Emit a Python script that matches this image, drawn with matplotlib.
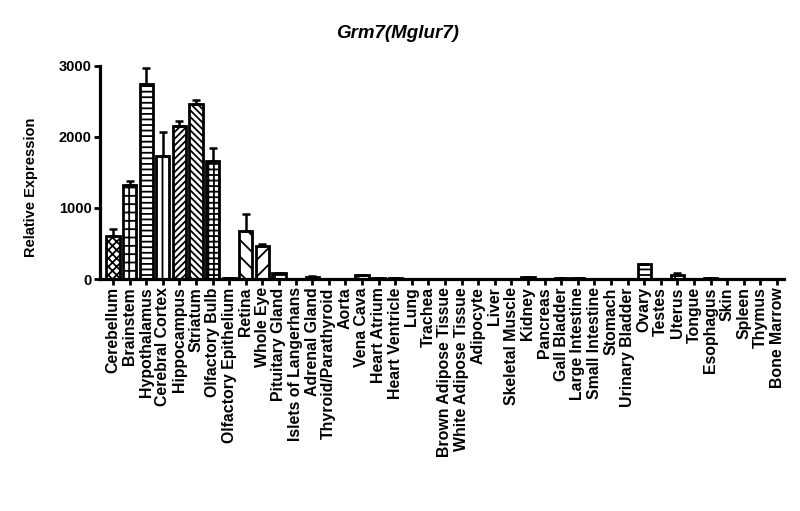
import matplotlib
matplotlib.use("Agg")
import matplotlib.pyplot as plt
import numpy as np

categories = ["Cerebellum", "Brainstem", "Hypothalamus", "Cerebral Cortex", "Hippocampus",
              "Striatum", "Olfactory Bulb", "Olfactory Epithelium", "Retina", "Whole Eye",
              "Pituitary Gland", "Islets of Langerhans", "Adrenal Gland", "Thyroid/Parathyroid",
              "Aorta", "Vena Cava", "Heart Atrium", "Heart Ventricle", "Lung", "Trachea",
              "Brown Adipose Tissue", "White Adipose Tissue", "Adipocyte", "Liver",
              "Skeletal Muscle", "Kidney", "Pancreas", "Gall Bladder", "Large Intestine",
              "Small Intestine", "Stomach", "Urinary Bladder", "Ovary", "Testes", "Uterus",
              "Tongue", "Esophagus", "Skin", "Spleen", "Thymus", "Bone Marrow"]

values = [605, 1322, 2742, 1734, 2160, 2461, 1668, 12, 675, 464,
          85, 2, 35, 3, 3, 50, 12, 12, 5, 5,
          3, 3, 2, 2, 3, 25, 5, 12, 8, 5,
          5, 5, 205, 5, 60, 5, 15, 2, 2, 2, 2]

errors = [95, 60, 235, 330, 65, 65, 170, 3, 240, 35,
          5, 1, 8, 1, 1, 10, 3, 3, 1, 1,
          1, 1, 1, 1, 1, 5, 1, 3, 2, 1,
          1, 1, 5, 1, 25, 1, 3, 1, 1, 1, 1]

hatches = ["xxxx", "++", "---", "||", "/////", "\\\\\\\\\\", "+++", "", "\\\\", "//",
           "+", "", "+", "", "", "+", "", "", "", "",
           "", "", "", "", "", "", "", "", "", "",
           "", "", "---", "", "+", "", "", "", "", "", ""]

yticks = [0, 1000, 2000, 3000]

plt.rcParams['font.family'] = ['Liberation Sans', 'DejaVu Sans']
plt.rcParams['font.weight'] = 'bold'
plt.rcParams['hatch.linewidth'] = 1.3

fig = plt.figure(figsize=(8.0, 5.11), dpi=100)
ax = fig.add_axes([0.125, 0.454, 0.855, 0.417])

x = np.arange(len(categories))
bars = ax.bar(x, values, width=0.8, color='white', edgecolor='black', linewidth=2.0,
              zorder=2)
for b, h in zip(bars, hatches):
    b.set_hatch(h)

ax.errorbar(x, values, yerr=[np.zeros(len(values)), errors], fmt='none', ecolor='black',
            elinewidth=1.8, capsize=3, capthick=1.8, zorder=3, clip_on=False)

ax.set_xlim(-0.78, 40.42)
ax.set_ylim(0, 3000)
ax.set_yticks(yticks)
ax.set_yticklabels([str(v) for v in yticks], fontsize=10.5, fontweight='bold')
ax.set_xticks(x)
ax.set_xticklabels(categories, rotation=90, fontsize=11.4, fontweight='bold')

for s in ['top', 'right']:
    ax.spines[s].set_visible(False)
for s in ['left', 'bottom']:
    ax.spines[s].set_linewidth(2.3)
ax.tick_params(axis='both', width=2.0, length=4.5, pad=1.5)

fig.text(0.4975, 1 - 33 / 511, "Grm7(Mglur7)", ha='center', va='center', fontsize=13.5,
         fontweight='bold', fontstyle='italic')
fig.text(31 / 800, 1 - 187 / 511, "Relative Expression", ha='center', va='center',
         rotation=90, fontsize=10.5, fontweight='bold')

fig.savefig("out.png", dpi=100)
